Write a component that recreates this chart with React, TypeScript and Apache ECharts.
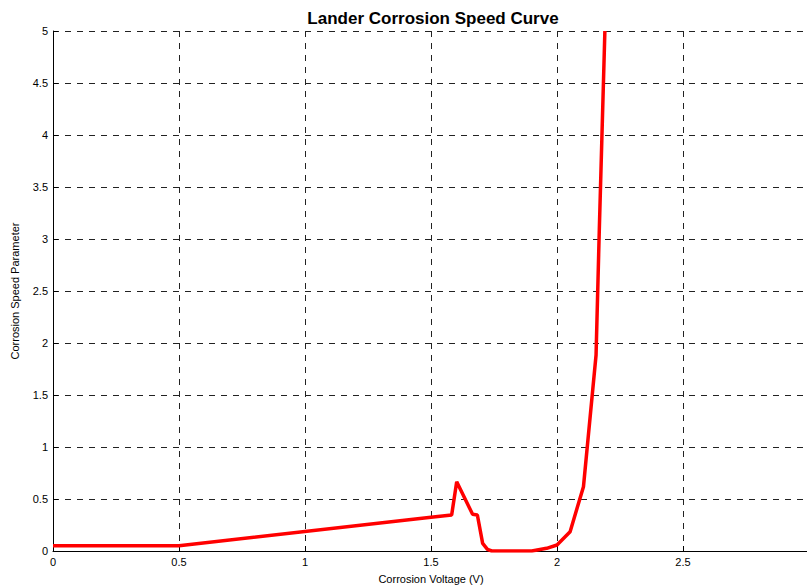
import React, { useEffect, useRef } from "react";
import * as echarts from "echarts";

const voltage = [0, 0.5, 1.5, 1.582, 1.602, 1.665, 1.684, 1.705, 1.724, 1.741, 1.9, 1.959, 2.0, 2.052, 2.105, 2.155, 2.168, 2.19];
const speed = [0.05, 0.05, 0.325, 0.346, 0.666, 0.353, 0.346, 0.074, 0.016, 0.0, 0.0, 0.026, 0.058, 0.186, 0.618, 1.885, 3.1, 5.0];
const xTicks = [0, 0.5, 1, 1.5, 2, 2.5];
const yTicks = [0, 0.5, 1, 1.5, 2, 2.5, 3, 3.5, 4, 4.5, 5];

export default function App() {
  const ref = useRef<HTMLDivElement>(null);
  useEffect(() => {
    if (!ref.current) return;
    const chart = echarts.init(ref.current, undefined, { renderer: "svg" });
    const font = "Liberation Sans, Arial, sans-serif";
    chart.setOption({
      animation: false,
      backgroundColor: "#ffffff",
      title: {
        text: "Lander Corrosion Speed Curve",
        left: 428,
        top: 5,
        textAlign: "center",
        textStyle: { fontFamily: font, fontSize: 17, fontWeight: "bold", color: "#000" },
      },
      grid: { left: 53, top: 31, width: 756, height: 520, containLabel: false, outerBoundsMode: "none" },
      xAxis: {
        type: "value",
        min: 0,
        max: 3,
        interval: 0.5,
        name: "Corrosion Voltage (V)",
        nameLocation: "middle",
        nameGap: 22,
        nameTextStyle: { fontFamily: font, fontSize: 11, color: "#000" },
        axisLine: { show: true, onZero: false, lineStyle: { color: "#000", width: 1 } },
        axisTick: { show: true, inside: true, length: 5, lineStyle: { color: "#000" } },
        axisLabel: {
          fontFamily: font,
          fontSize: 11,
          color: "#000",
          margin: 5,
          formatter: (v: number) => (xTicks.includes(v) ? String(v) : ""),
        },
        splitLine: { show: true, lineStyle: { color: "#222", type: [6, 6], width: 1 } },
      },
      yAxis: {
        type: "value",
        min: 0,
        max: 5,
        interval: 0.5,
        name: "Corrosion Speed Parameter",
        nameLocation: "middle",
        nameGap: 33,
        nameTextStyle: { fontFamily: font, fontSize: 11, color: "#000" },
        axisLine: { show: true, lineStyle: { color: "#000", width: 1 } },
        axisTick: { show: true, inside: true, length: 5, lineStyle: { color: "#000" } },
        axisLabel: {
          fontFamily: font,
          fontSize: 11,
          color: "#000",
          margin: 5,
          formatter: (v: number) => (yTicks.includes(v) ? String(v) : ""),
        },
        splitLine: { show: true, lineStyle: { color: "#222", type: [6, 6], width: 1 } },
      },
      series: [
        {
          type: "line",
          data: voltage.map((v, i) => [v, speed[i]]),
          showSymbol: false,
          symbol: "none",
          clip: true,
          lineStyle: { color: "#ff0000", width: 3.5 },
        },
      ],
    });
    return () => chart.dispose();
  }, []);
  return (
    <div
      ref={ref}
      style={{ position: "absolute", left: 0, top: 0, width: 807, height: 587, background: "#fff" }}
    />
  );
}
